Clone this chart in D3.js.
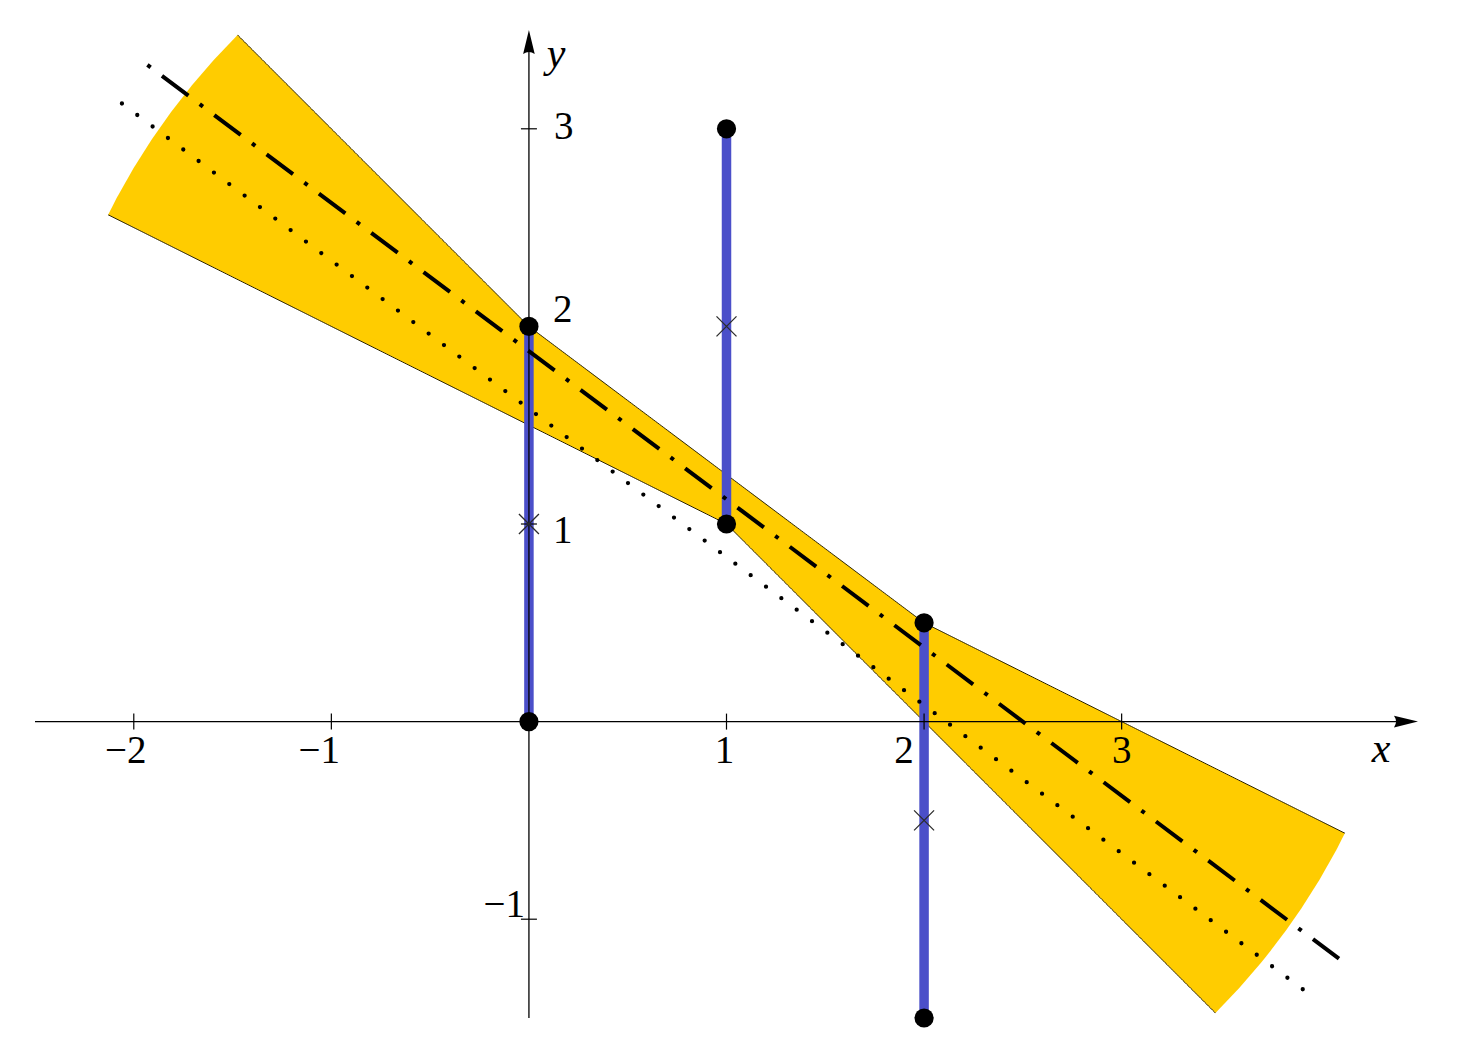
<!DOCTYPE html>
<html>
<head>
<meta charset="utf-8">
<script src="https://cdn.jsdelivr.net/npm/d3@7"></script>
<style>
  html, body { margin: 0; padding: 0; background: #fff; }
  svg { display: block; }
</style>
</head>
<body>
<svg id="chart" width="1481" height="1063"></svg>
<script>
// ---------------- data ----------------
const intervalX    = [0, 1, 2];
const intervalLow  = [0, 1, -1.5];
const intervalHigh = [2, 3, 0.5];
const intervalMid  = [1, 2, -0.5];

// least-squares fit (dotted) and central fit (dash-dotted)
const lsIntercept = 1.583, lsSlope = -0.75;
const lsDomain = [-2.06, 3.92];
const centerIntercept = 1.875, centerSlope = -0.75;
const centerDomain = [-1.931, 4.10];

// feasible band is clipped by a disk around this point
const bandClipCenter = [1, 1];
const bandClipRadius = 3.5;

const xDomain = [-2.5, 4.5];
const yDomain = [-1.5, 3.5];
const xTickValues = [-2, -1, 1, 2, 3];
const xTickLabels = ["\u22122", "\u22121", "1", "2", "3"];
const yTickValues = [-1, 1, 2, 3];
const yTickLabels = ["\u22121", "1", "2", "3"];

const FONT = "Liberation Serif";

// ---------------- scales ----------------
const svg = d3.select("#chart");
const x = d3.scaleLinear().domain(xDomain).range([35, 1418]);
const y = d3.scaleLinear().domain(yDomain).range([1018, 30]);
const unitPx = x(1) - x(0);

// ---------------- band (envelope of all lines through every interval) ----------------
const endpoints = [];
intervalX.forEach((xv, i) => {
  endpoints.push([xv, intervalLow[i]]);
  endpoints.push([xv, intervalHigh[i]]);
});
const feasible = [];
for (let i = 0; i < endpoints.length; i++) {
  for (let j = i + 1; j < endpoints.length; j++) {
    const [x1, y1] = endpoints[i], [x2, y2] = endpoints[j];
    if (x1 === x2) continue;
    const b = (y2 - y1) / (x2 - x1), a = y1 - b * x1;
    const ok = intervalX.every((xv, k) => {
      const v = a + b * xv;
      return v >= intervalLow[k] - 1e-9 && v <= intervalHigh[k] + 1e-9;
    });
    if (ok) feasible.push({a, b});
  }
}
const upper = xv => d3.max(feasible, l => l.a + l.b * xv);
const lower = xv => d3.min(feasible, l => l.a + l.b * xv);
const xs = d3.range(-3, 5.0001, 0.01).concat(intervalX).sort((p, q) => p - q);

const defs = svg.append("defs");
defs.append("clipPath").attr("id", "bandClip")
  .append("circle")
  .attr("cx", x(bandClipCenter[0]))
  .attr("cy", y(bandClipCenter[1]))
  .attr("r", bandClipRadius * unitPx);

const line = d3.line().x(d => x(d[0])).y(d => y(d[1]));
const upperPts = xs.map(v => [v, upper(v)]);
const lowerPts = xs.map(v => [v, lower(v)]);

const bandG = svg.append("g").attr("clip-path", "url(#bandClip)");
bandG.append("path")
  .attr("d", line(upperPts.concat(lowerPts.slice().reverse())) + "Z")
  .attr("fill", "#ffcc00")
  .attr("stroke", "none");
[upperPts, lowerPts].forEach(pts => {
  bandG.append("path")
    .attr("d", line(pts))
    .attr("fill", "none")
    .attr("stroke", "#2a2200")
    .attr("stroke-width", 1);
});

// ---------------- blue interval bars ----------------
svg.append("g").selectAll("line.bar")
  .data(intervalX.map((xv, i) => ({x: xv, lo: intervalLow[i], hi: intervalHigh[i]})))
  .join("line")
  .attr("x1", d => x(d.x)).attr("x2", d => x(d.x))
  .attr("y1", d => y(d.lo)).attr("y2", d => y(d.hi))
  .attr("stroke", "#4b4fc9")
  .attr("stroke-width", 9.5);

// ---------------- fitted lines ----------------
svg.append("path")
  .attr("d", line(lsDomain.map(v => [v, lsIntercept + lsSlope * v])))
  .attr("fill", "none")
  .attr("stroke", "#000")
  .attr("stroke-width", 4.3)
  .attr("stroke-linecap", "round")
  .attr("stroke-dasharray", "0 19.17");

svg.append("path")
  .attr("d", line(centerDomain.map(v => [v, centerIntercept + centerSlope * v])))
  .attr("fill", "none")
  .attr("stroke", "#000")
  .attr("stroke-width", 4)
  .attr("stroke-linecap", "butt")
  .attr("stroke-dasharray", "4 14.2 33 14.2");

// ---------------- axes ----------------
const axG = svg.append("g");
axG.append("line")
  .attr("x1", x(xDomain[0])).attr("x2", x(xDomain[1]) - 10)
  .attr("y1", y(0)).attr("y2", y(0))
  .attr("stroke", "#000").attr("stroke-width", 1.3);
axG.append("line")
  .attr("x1", x(0)).attr("x2", x(0))
  .attr("y1", y(yDomain[0])).attr("y2", y(yDomain[1]) + 10)
  .attr("stroke", "#000").attr("stroke-width", 1.3);
// arrowheads
const xt = x(xDomain[1]), yt = y(yDomain[1]);
axG.append("path")
  .attr("d", `M${xt},${y(0)} L${xt - 24},${y(0) - 5.8} Q${xt - 20},${y(0)} ${xt - 24},${y(0) + 5.8} Z`)
  .attr("fill", "#000");
axG.append("path")
  .attr("d", `M${x(0)},${yt} L${x(0) - 5.8},${yt + 24} Q${x(0)},${yt + 20} ${x(0) + 5.8},${yt + 24} Z`)
  .attr("fill", "#000");

// ticks
axG.selectAll("line.xt").data(xTickValues).join("line")
  .attr("x1", d => x(d)).attr("x2", d => x(d))
  .attr("y1", y(0) - 8).attr("y2", y(0) + 8)
  .attr("stroke", "#000").attr("stroke-width", 1.2);
axG.selectAll("line.yt").data(yTickValues).join("line")
  .attr("x1", x(0) - 8).attr("x2", x(0) + 8)
  .attr("y1", d => y(d)).attr("y2", d => y(d))
  .attr("stroke", "#000").attr("stroke-width", 1.2);

// ---------------- crosses at interval midpoints ----------------
const cs = 10;
const crossG = svg.append("g");
intervalX.forEach((xv, i) => {
  const cx = x(xv), cy = y(intervalMid[i]);
  crossG.append("path")
    .attr("d", `M${cx - cs},${cy - cs} L${cx + cs},${cy + cs} M${cx - cs},${cy + cs} L${cx + cs},${cy - cs}`)
    .attr("stroke", "#2b2b2b").attr("stroke-width", 1.3).attr("fill", "none");
});

// ---------------- endpoint dots ----------------
svg.append("g").selectAll("circle")
  .data(endpoints)
  .join("circle")
  .attr("cx", d => x(d[0])).attr("cy", d => y(d[1]))
  .attr("r", 9.6)
  .attr("fill", "#000");

// ---------------- tick labels ----------------
const xNudge = {"-2": -8, "-1": -12, "1": -2, "2": -20, "3": 0};
svg.append("g").selectAll("text")
  .data(xTickValues)
  .join("text")
  .attr("x", d => x(d) + xNudge[d])
  .attr("y", 763)
  .attr("text-anchor", "middle")
  .attr("font-family", FONT)
  .attr("font-size", 39)
  .attr("fill", "#000")
  .text((d, i) => xTickLabels[i]);

const yLabelPlace = {
  "-1": {dx: -4, dy: -2, anchor: "end"},
  "1":  {dx: 24, dy: 19, anchor: "start"},
  "2":  {dx: 24, dy: -4, anchor: "start"},
  "3":  {dx: 25, dy: 10, anchor: "start"}
};
svg.append("g").selectAll("text")
  .data(yTickValues)
  .join("text")
  .attr("x", d => x(0) + yLabelPlace[d].dx)
  .attr("y", d => y(d) + yLabelPlace[d].dy)
  .attr("text-anchor", d => yLabelPlace[d].anchor)
  .attr("font-family", FONT)
  .attr("font-size", 39)
  .attr("fill", "#000")
  .text((d, i) => yTickLabels[i]);

// axis names
svg.append("text")
  .attr("x", 1381).attr("y", 762)
  .attr("text-anchor", "middle")
  .attr("font-family", FONT)
  .attr("font-size", 42).attr("font-style", "italic")
  .text("x");
svg.append("text")
  .attr("x", 556).attr("y", 67)
  .attr("text-anchor", "middle")
  .attr("font-family", FONT)
  .attr("font-size", 42).attr("font-style", "italic")
  .text("y");
</script>
</body>
</html>
